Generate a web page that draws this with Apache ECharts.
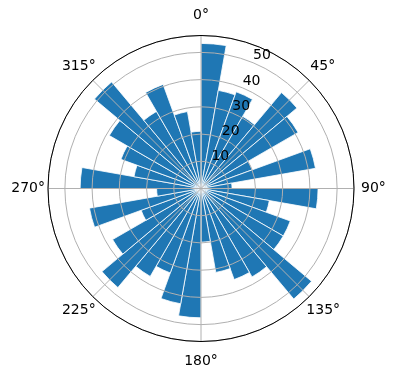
<!DOCTYPE html>
<html><head><meta charset="utf-8">
<script src="https://cdn.jsdelivr.net/npm/echarts@6/dist/echarts.min.js"></script>
<style>html,body{margin:0;padding:0;background:#fff}#c{width:396px;height:380px}</style>
</head><body><div id="c"></div>
<script>
// 36 sectors of 10 degrees, starting at 0 deg (north), clockwise
const sectors = ['0','10','20','30','40','50','60','70','80','90','100','110','120','130','140','150','160','170',
  '180','190','200','210','220','230','240','250','260','270','280','290','300','310','320','330','340','350'];
const values = [53.3, 36.6, 37.8, 30.6, 46.0, 41.2, 20.0, 42.7, 11.4,
  43.0, 25.5, 34.9, 34.9, 53.0, 37.5, 35.6, 31.3, 19.7,
  47.5, 43.0, 33.0, 37.3, 47.5, 37.5, 23.4, 41.6, 16.3,
  44.4, 25.0, 31.3, 38.9, 51.1, 32.7, 40.7, 28.7, 21.0];
const angleTicks = [0, 45, 90, 135, 180, 225, 270, 315];
const radiusTicks = [10, 20, 30, 40, 50];
const rMax = 56.2;

const FONT = 'DejaVu Sans';
const base = {fontSize: 14, fontFamily: FONT, color: '#000'};
const rich = {
  a0:   Object.assign({padding: [0, 0, 17, 0]}, base),
  a45:  Object.assign({padding: [0, 0, 10, 4]}, base),
  a90:  Object.assign({padding: [0, 0, 0, 11]}, base),
  a135: Object.assign({padding: [10, 0, 0, 0]}, base),
  a180: Object.assign({padding: [17, 0, 0, 0]}, base),
  a225: Object.assign({padding: [10, 0, 0, 0]}, base),
  a270: Object.assign({padding: [0, 7, 0, 0]}, base),
  a315: Object.assign({padding: [0, 0, 10, 0]}, base)
};
const center = [201, 188.5];
const R = 153;
const grid = {color: '#b0b0b0', width: 1};

const chart = echarts.init(document.getElementById('c'), null, {renderer: 'canvas'});
chart.setOption({
  animation: false,
  backgroundColor: '#fff',
  polar: [
    {center: center, radius: R},
    {center: center, radius: R},
    {center: center, radius: R}
  ],
  angleAxis: [
    {polarIndex: 0, type: 'category', data: sectors, startAngle: 90, clockwise: true, boundaryGap: true,
     axisLine: {show: false}, axisTick: {show: false}, axisLabel: {show: false}, splitLine: {show: false}},
    {polarIndex: 1, type: 'value', min: 0, max: 360, interval: 45, startAngle: 90, clockwise: true, z: 5,
     axisLine: {show: true, lineStyle: {color: '#000', width: 1}},
     axisTick: {show: false},
     axisLabel: {margin: -4, fontSize: 14, fontFamily: FONT, color: '#000', rich: rich,
       formatter: function (v) { return angleTicks.indexOf(v) >= 0 ? '{a' + v + '|' + v + '°}' : ''; }},
     splitLine: {show: true, lineStyle: grid}},
    {polarIndex: 2, type: 'value', min: 0, max: 360, startAngle: 67.5, clockwise: true, show: false}
  ],
  radiusAxis: [
    {polarIndex: 0, type: 'value', min: 0, max: rMax, show: false},
    {polarIndex: 1, type: 'value', min: 0, max: rMax, interval: 10, z: 5,
     axisLine: {show: false}, axisTick: {show: false}, axisLabel: {show: false},
     splitLine: {show: true, lineStyle: grid}},
    {polarIndex: 2, type: 'value', min: 0, max: rMax, interval: 10, z: 6,
     axisLine: {show: false}, axisTick: {show: false}, splitLine: {show: false},
     axisLabel: {margin: 0, align: 'left', verticalAlign: 'bottom', fontSize: 14, fontFamily: FONT, color: '#000',
       formatter: function (v) { return radiusTicks.indexOf(v) >= 0 ? String(v) : ''; }}}
  ],
  series: [{
    type: 'bar', coordinateSystem: 'polar', polarIndex: 0, data: values,
    barCategoryGap: '0%', z: 2,
    itemStyle: {color: '#1f77b4', borderColor: '#fff', borderWidth: 0.8}
  }]
});
</script>
</body></html>
